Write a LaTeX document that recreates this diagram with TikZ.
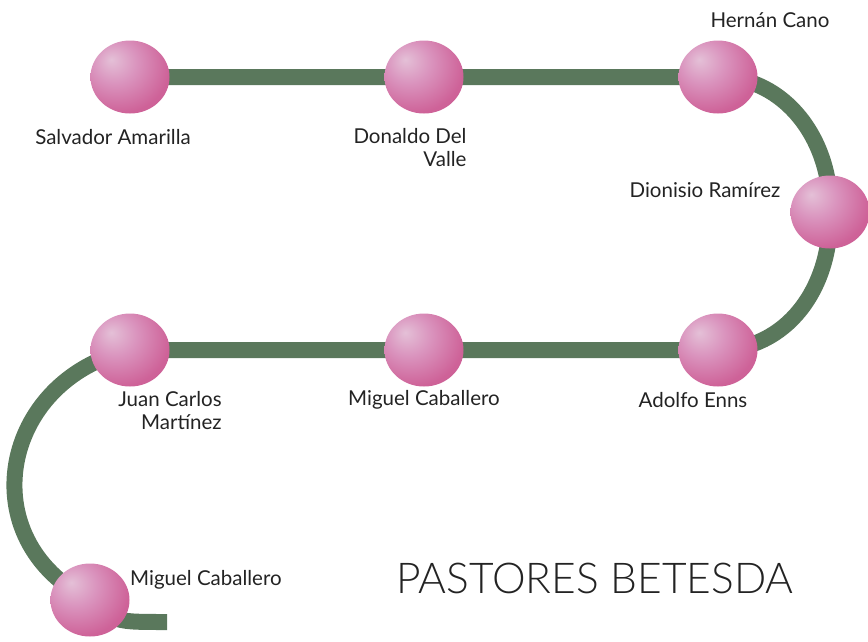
\documentclass[tikz,border=0pt]{standalone}
\usepackage{fontspec}
\setmainfont{Lato}
\newfontfamily\titlefont{Lato Light}
\usetikzlibrary{positioning, backgrounds, shapes.geometric}

\definecolor{trackgreen}{RGB}{90,120,92}
\definecolor{labelgray}{RGB}{35,35,35}
\definecolor{ballhi}{RGB}{228,192,215}
\definecolor{ballmid}{RGB}{218,148,190}
\definecolor{balllo}{RGB}{206,98,152}
\definecolor{balledge}{RGB}{200,90,145}
\pgfdeclareradialshading{pinkball}{\pgfpoint{-12bp}{12bp}}{color(0bp)=(ballhi); color(14bp)=(ballmid); color(32bp)=(balllo); color(50bp)=(balledge); color(80bp)=(balledge)}

\begin{document}
\begin{tikzpicture}[x=1pt, y=-1pt, node distance=294pt, on grid,
    pastor/.style={ellipse, minimum width=79pt, minimum height=73pt, inner sep=0pt, shade, shading=pinkball},
    who/.style={font=\fontsize{20.5}{23}\selectfont, text=labelgray, align=right, inner sep=0pt},
    track/.style={draw=trackgreen, line width=16pt}]
    \useasboundingbox (0,0) rectangle (868,641);
    \node[pastor] (p_1) at (130,77) {};
    \node[pastor] (p_2) [right=of p_1] {};
    \node[pastor] (p_3) [right=of p_2] {};
    \node[pastor] (p_4) at (830,212) {};
    \node[pastor] (p_6) [below=273pt of p_3] {};
    \node[pastor] (p_5) [left=of p_6] {};
    \node[pastor] (p_7) [left=of p_5] {};
    \node[pastor] (p_8) at (90,600) {};
    \coordinate (tail) at (167,622);

    \node[who, below=60pt of p_1, xshift=-17pt] (l_1) {Salvador Amarilla};
    \node[who, below=71pt of p_2, xshift=-14pt] (l_2) {Donaldo Del\\Valle};
    \node[who, above=57pt of p_3, xshift=52pt] (l_3) {Hernán Cano};
    \node[who, above=22pt of p_4, xshift=-125pt] (l_4) {Dionisio Ramírez};
    \node[who, below=50pt of p_6, xshift=-25pt] (l_6) {Adolfo Enns};
    \node[who, below=50pt of p_5] (l_5) {Miguel Caballero};
    \node[who, below=61pt of p_7, xshift=40pt] (l_7) {Juan Carlos\\Martínez};
    \node[who, anchor=west] (l_8) at ([xshift=40pt, yshift=20pt]p_8.center) {Miguel Caballero};
    \node[font=\titlefont\fontsize{42.5}{46}\selectfont, text=labelgray] (title) at (595,578) {PASTORES BETESDA};

    \begin{scope}[on background layer]
        \path[track] (p_1.center) -- (p_2.center) -- (p_3.center)
            .. controls (785,77) and (832,140) .. (p_4.center)
            .. controls (832,290) and (785,350) .. (p_6.center)
            -- (p_5.center) -- (p_7.center)
            .. controls (0,380) and (-30,540) .. (p_8.center)
            .. controls (115,622) .. (tail);
    \end{scope}
\end{tikzpicture}
\end{document}
